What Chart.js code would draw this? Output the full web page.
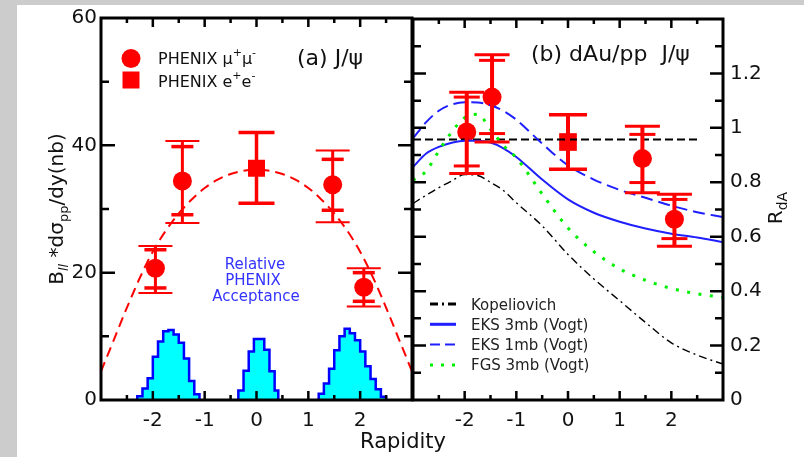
<!DOCTYPE html>
<html><head><meta charset="utf-8">
<script src="https://cdn.jsdelivr.net/npm/chart.js@4.4.1/dist/chart.umd.min.js"></script>
<style>
html,body{margin:0;padding:0;background:#cccccc;width:804px;height:457px;overflow:hidden;}
#paper{position:absolute;left:17px;top:5px;width:787px;height:452px;background:#fff;}
canvas{position:absolute;left:0;top:0;}
</style></head><body>
<div id="paper"></div>
<canvas id="c1" width="804" height="457"></canvas>
<canvas id="c2" width="804" height="457"></canvas>
<script>
// ---------- tick labels ----------
const xTickValues = [-2, -1, 0, 1, 2];
const xTickLabels = ['-2', '-1', '0', '1', '2'];
const xMinorTicks = [-2.5, -1.5, -0.5, 0.5, 1.5, 2.5];
const ppTickValues = [0, 20, 40, 60];
const ppTickLabels = ['0', '20', '40', '60'];
const ppMajorMarks = [20, 40];
const ppMinorMarks = [10, 30, 50];
const rdaTickValues = [0, 0.2, 0.4, 0.6, 0.8, 1.0, 1.2];
const rdaTickLabels = ['0', '0.2', '0.4', '0.6', '0.8', '1', '1.2'];
const rdaMajorMarks = [0.2, 0.4, 0.6, 0.8, 1.0, 1.2];
const rdaMinorMarks = [0.1, 0.3, 0.5, 0.7, 0.9, 1.1, 1.3];

// ---------- panel (a): pp cross section ----------
const muRapidity = [-1.95, -1.43, 1.47, 2.07];
const muCross = [20.7, 34.4, 33.8, 17.7];
const muCrossHiOuter = [24.2, 40.7, 39.2, 20.7];
const muCrossHiInner = [23.6, 39.8, 37.8, 20.0];
const muCrossLoInner = [17.6, 29.1, 29.8, 15.5];
const muCrossLoOuter = [16.8, 27.8, 27.9, 14.7];
const eeRapidity = [0];
const eeCross = [36.4];
const eeCrossHi = [42.0];
const eeCrossLo = [30.9];
const fitRapidity = [-3, -2.75, -2.5, -2.25, -2, -1.75, -1.5, -1.25, -1, -0.75, -0.5, -0.25, 0, 0.25, 0.5, 0.75, 1, 1.25, 1.5, 1.75, 2, 2.25, 2.5, 2.75, 3];
const fitCross = [4.5, 9.5, 14.5, 19.2, 23.3, 26.6, 29.3, 31.5, 33.3, 34.6, 35.5, 36.0, 36.2, 36.0, 35.5, 34.6, 33.3, 31.5, 29.3, 26.6, 23.3, 19.2, 14.5, 9.5, 4.5];
// relative acceptance histograms (bin edges, heights)
const accSouthEdges = [-2.3, -2.2, -2.1, -2.0, -1.9, -1.8, -1.7, -1.6, -1.5, -1.4, -1.3, -1.2, -1.1];
const accSouthHeights = [0.6, 1.8, 3.4, 6.8, 9.2, 10.8, 11.0, 10.3, 9.0, 6.5, 3.0, 0.9];
const accCentralEdges = [-0.35, -0.25, -0.15, -0.05, 0.05, 0.15, 0.25, 0.35, 0.42];
const accCentralHeights = [1.5, 4.6, 7.6, 9.6, 9.6, 7.9, 4.5, 1.5];
const accNorthEdges = [1.2, 1.3, 1.4, 1.5, 1.6, 1.7, 1.8, 1.9, 2.0, 2.1, 2.2, 2.3, 2.4, 2.5];
const accNorthHeights = [1.0, 2.6, 4.9, 7.8, 10.0, 11.2, 10.5, 9.4, 7.6, 5.3, 3.3, 1.7, 0.5];

// ---------- panel (b): dAu/pp ----------
const rdaMuRapidity = [-1.96, -1.47, 1.44, 2.06];
const rdaMu = [0.985, 1.113, 0.887, 0.664];
const rdaMuHiOuter = [1.131, 1.269, 1.006, 0.756];
const rdaMuHiInner = [1.113, 1.248, 0.976, 0.737];
const rdaMuLoInner = [0.860, 0.979, 0.799, 0.593];
const rdaMuLoOuter = [0.832, 0.948, 0.762, 0.565];
const rdaEeRapidity = [0];
const rdaEe = [0.948];
const rdaEeHi = [1.048];
const rdaEeLo = [0.848];
const refRapidity = [-3, 2.5];
const refRda = [0.957, 0.957];
const theoryRapidity = [-3, -2.75, -2.5, -2.25, -2, -1.75, -1.5, -1.25, -1, -0.5, 0, 0.5, 1, 1.5, 2, 2.5, 3];
const kopeliovich = [0.722, 0.752, 0.780, 0.805, 0.828, 0.825, 0.800, 0.770, 0.725, 0.640, 0.535, 0.445, 0.365, 0.285, 0.210, 0.165, 0.132];
const eks3mb = [0.856, 0.905, 0.930, 0.945, 0.953, 0.953, 0.946, 0.925, 0.893, 0.810, 0.737, 0.688, 0.655, 0.630, 0.611, 0.597, 0.580];
const eks1mb = [0.962, 1.020, 1.063, 1.086, 1.094, 1.093, 1.083, 1.062, 1.030, 0.942, 0.862, 0.810, 0.772, 0.743, 0.714, 0.690, 0.672];
const fgs3mb = [0.807, 0.840, 0.915, 0.985, 1.037, 1.050, 0.995, 0.935, 0.890, 0.757, 0.632, 0.545, 0.482, 0.440, 0.410, 0.390, 0.377];

// ---------- styling ----------
const FONT = 'DejaVu Sans';
const RED = '#ff0000';
const BLUE = '#1f1fff';
const TXT = '#111111';

const pts = (xs, ys) => xs.map((v, i) => ({x: v, y: ys[i]}));
const histPts = (edges, h) => [{x: edges[0], y: 0}].concat(h.map((v, i) => ({x: edges[i], y: v}))).concat([{x: edges[edges.length - 1], y: 0}]);

function richText(ctx, x, y, parts, align) {
  ctx.textBaseline = 'alphabetic';
  ctx.textAlign = 'left';
  let total = 0;
  parts.forEach(p => { ctx.font = (p.italic ? 'italic ' : '') + p.size + 'px "' + FONT + '"'; p.w = ctx.measureText(p.t).width; total += p.w; });
  let cx = align === 'center' ? x - total / 2 : x;
  parts.forEach(p => {
    ctx.font = (p.italic ? 'italic ' : '') + p.size + 'px "' + FONT + '"';
    ctx.fillText(p.t, cx, y + (p.dy || 0));
    cx += p.w;
  });
}
function rotatedText(ctx, x, y, parts) {
  ctx.save();
  ctx.translate(x, y);
  ctx.rotate(-Math.PI / 2);
  richText(ctx, 0, 0, parts, 'center');
  ctx.restore();
}
function drawFrame(chart, yMajor, yMinor, yMajLen, yMinLen) {
  const {ctx, chartArea: a, scales: {x, y}} = chart;
  ctx.save();
  ctx.strokeStyle = '#000';
  ctx.lineWidth = 2.5;
  ctx.beginPath();
  const xt = (vals, len) => vals.forEach(v => { const p = x.getPixelForValue(v); ctx.moveTo(p, a.bottom); ctx.lineTo(p, a.bottom - len); ctx.moveTo(p, a.top); ctx.lineTo(p, a.top + len); });
  const yt = (vals, len) => vals.forEach(v => { const p = y.getPixelForValue(v); ctx.moveTo(a.left, p); ctx.lineTo(a.left + len, p); ctx.moveTo(a.right, p); ctx.lineTo(a.right - len, p); });
  xt(xTickValues, 9); xt(xMinorTicks, 5);
  yt(yMajor, yMajLen); yt(yMinor, yMinLen);
  ctx.stroke();
  ctx.lineWidth = 3;
  ctx.strokeRect(a.left, a.top, a.right - a.left, a.bottom - a.top);
  ctx.restore();
}
function vbar(ctx, px, y1, y2, w) { ctx.lineWidth = w; ctx.beginPath(); ctx.moveTo(px, y1); ctx.lineTo(px, y2); ctx.stroke(); }
function cap(ctx, px, py, half, w) { ctx.lineWidth = w; ctx.beginPath(); ctx.moveTo(px - half, py); ctx.lineTo(px + half, py); ctx.stroke(); }

function errorBars(chart, xs, hiO, hiI, loI, loO, vw, ow, iw, oHalf, iHalf) {
  const {ctx, scales: {x, y}} = chart;
  ctx.save(); ctx.strokeStyle = RED;
  xs.forEach((r, i) => {
    const px = x.getPixelForValue(r);
    vbar(ctx, px, y.getPixelForValue(hiO[i]), y.getPixelForValue(loO[i]), vw);
    cap(ctx, px, y.getPixelForValue(hiO[i]), oHalf, ow);
    cap(ctx, px, y.getPixelForValue(loO[i]), oHalf, ow);
    if (hiI) {
      cap(ctx, px, y.getPixelForValue(hiI[i]), iHalf, iw);
      cap(ctx, px, y.getPixelForValue(loI[i]), iHalf, iw);
    }
  });
  ctx.restore();
}

function xScale() {
  return {
    type: 'linear', min: -3, max: 3,
    grid: {display: false, drawTicks: false}, border: {display: false},
    afterBuildTicks: s => { s.ticks = xTickValues.map(v => ({value: v})); },
    afterFit: s => { s.height = 57; },
    ticks: {autoSkip: false, maxRotation: 0, padding: 9, color: TXT, font: {family: FONT, size: 20},
      callback: v => xTickLabels[xTickValues.indexOf(v)]}
  };
}

// ---------- panel (a) ----------
const panelA = {
  id: 'panelA',
  afterDatasetsDraw(chart) {
    const {ctx, chartArea: a} = chart;
    errorBars(chart, muRapidity, muCrossHiOuter, muCrossHiInner, muCrossLoInner, muCrossLoOuter, 3, 2, 3.5, 17, 11);
    errorBars(chart, eeRapidity, eeCrossHi, null, null, eeCrossLo, 3.5, 3.5, 3.5, 18, 0);
    drawFrame(chart, ppMajorMarks, ppMinorMarks, 14, 8);
    ctx.save();
    // legend
    ctx.fillStyle = RED;
    ctx.beginPath(); ctx.arc(a.left + 30, a.top + 40.5, 9.5, 0, Math.PI * 2); ctx.fill();
    ctx.fillRect(a.left + 21.5, a.top + 53.5, 17, 17);
    ctx.fillStyle = TXT;
    richText(ctx, a.left + 57, a.top + 46, [{t: 'PHENIX \u03bc', size: 16}, {t: '+', size: 11, dy: -8}, {t: '\u03bc', size: 16}, {t: '-', size: 11, dy: -8}]);
    richText(ctx, a.left + 57, a.top + 69, [{t: 'PHENIX e', size: 16}, {t: '+', size: 11, dy: -8}, {t: 'e', size: 16}, {t: '-', size: 11, dy: -8}]);
    richText(ctx, a.left + 196, a.top + 47, [{t: '(a) J/\u03c8', size: 22}]);
    ctx.fillStyle = '#3333ff';
    richText(ctx, a.left + 154, a.top + 251, [{t: 'Relative', size: 15}], 'center');
    richText(ctx, a.left + 152, a.top + 267, [{t: 'PHENIX', size: 15}], 'center');
    richText(ctx, a.left + 155, a.top + 283, [{t: 'Acceptance', size: 15}], 'center');
    // axis titles
    ctx.fillStyle = TXT;
    rotatedText(ctx, 63, (a.top + a.bottom) / 2, [
      {t: 'B', size: 20}, {t: 'll', size: 13, dy: 5, italic: true}, {t: ' *d\u03c3', size: 20},
      {t: 'pp', size: 13, dy: 5}, {t: '/dy(nb)', size: 20}]);
    richText(ctx, 403, 448, [{t: 'Rapidity', size: 21}], 'center');
    ctx.restore();
  }
};

new Chart(document.getElementById('c1'), {
  type: 'line',
  data: {datasets: [
    {data: histPts(accSouthEdges, accSouthHeights), stepped: 'before', fill: 'origin', backgroundColor: '#00ffff', borderColor: '#0000ff', borderWidth: 2.5, pointRadius: 0},
    {data: histPts(accCentralEdges, accCentralHeights), stepped: 'before', fill: 'origin', backgroundColor: '#00ffff', borderColor: '#0000ff', borderWidth: 2.5, pointRadius: 0},
    {data: histPts(accNorthEdges, accNorthHeights), stepped: 'before', fill: 'origin', backgroundColor: '#00ffff', borderColor: '#0000ff', borderWidth: 2.5, pointRadius: 0},
    {data: pts(fitRapidity, fitCross), borderColor: RED, borderWidth: 2, borderDash: [10, 6], pointRadius: 0, cubicInterpolationMode: 'monotone', fill: false},
    {data: pts(muRapidity, muCross), showLine: false, pointStyle: 'circle', pointRadius: 9.5, pointBackgroundColor: RED, pointBorderWidth: 0},
    {data: pts(eeRapidity, eeCross), showLine: false, pointStyle: 'rect', pointRadius: 12, pointBackgroundColor: RED, pointBorderWidth: 0}
  ]},
  options: {
    responsive: false, animation: false, devicePixelRatio: 1,
    layout: {padding: {top: 18, left: 0, right: 392, bottom: 0}},
    plugins: {legend: {display: false}, tooltip: {enabled: false}},
    scales: {
      x: xScale(),
      y: {type: 'linear', min: 0, max: 60,
        grid: {display: false, drawTicks: false}, border: {display: false},
        afterBuildTicks: s => { s.ticks = ppTickValues.map(v => ({value: v})); },
        afterFit: s => { s.width = 101; },
        ticks: {autoSkip: false, padding: 4, color: TXT, font: {family: FONT, size: 20},
          callback: v => ppTickLabels[ppTickValues.indexOf(v)]}}
    }
  },
  plugins: [panelA]
});

// ---------- panel (b) ----------
const panelB = {
  id: 'panelB',
  afterDatasetsDraw(chart) {
    const {ctx, chartArea: a} = chart;
    errorBars(chart, rdaMuRapidity, rdaMuHiOuter, rdaMuHiInner, rdaMuLoInner, rdaMuLoOuter, 4, 3, 3, 17.5, 13);
    errorBars(chart, rdaEeRapidity, rdaEeHi, null, null, rdaEeLo, 4, 3.5, 3.5, 19, 0);
    drawFrame(chart, rdaMajorMarks, rdaMinorMarks, 13, 8);
    ctx.save();
    ctx.fillStyle = TXT;
    richText(ctx, a.left + 118, a.top + 42, [{t: '(b) dAu/pp  J/\u03c8', size: 22}]);
    // legend
    const rows = [
      {label: 'Kopeliovich', color: '#000', dash: [8, 4, 2, 4], w: 3},
      {label: 'EKS 3mb (Vogt)', color: BLUE, dash: [], w: 3},
      {label: 'EKS 1mb (Vogt)', color: BLUE, dash: [10, 5], w: 2},
      {label: 'FGS 3mb (Vogt)', color: '#00ee00', dash: [3, 8], w: 3}
    ];
    rows.forEach((r, i) => {
      const yy = a.top + 285 + i * 20.3;
      ctx.strokeStyle = r.color; ctx.lineWidth = r.w; ctx.setLineDash(r.dash);
      ctx.beginPath(); ctx.moveTo(a.left + 17, yy); ctx.lineTo(a.left + 43, yy); ctx.stroke();
      ctx.setLineDash([]);
      ctx.fillStyle = '#222';
      richText(ctx, a.left + 58, yy + 5.5, [{t: r.label, size: 15}]);
    });
    ctx.fillStyle = TXT;
    rotatedText(ctx, 782, 208, [{t: 'R', size: 20}, {t: 'dA', size: 14, dy: 5}]);
    ctx.restore();
  }
};

new Chart(document.getElementById('c2'), {
  type: 'line',
  data: {datasets: [
    {data: pts(theoryRapidity, kopeliovich), borderColor: '#000', borderWidth: 1.4, borderDash: [8, 4, 2, 4], pointRadius: 0, cubicInterpolationMode: 'monotone', fill: false},
    {data: pts(theoryRapidity, fgs3mb), borderColor: '#00ee00', borderWidth: 3, borderDash: [3, 8.5], pointRadius: 0, cubicInterpolationMode: 'monotone', fill: false},
    {data: pts(theoryRapidity, eks3mb), borderColor: BLUE, borderWidth: 2, pointRadius: 0, cubicInterpolationMode: 'monotone', fill: false},
    {data: pts(theoryRapidity, eks1mb), borderColor: BLUE, borderWidth: 2, borderDash: [12, 6], pointRadius: 0, cubicInterpolationMode: 'monotone', fill: false},
    {data: pts(refRapidity, refRda), borderColor: '#000', borderWidth: 2, borderDash: [8, 4], pointRadius: 0, fill: false},
    {data: pts(rdaMuRapidity, rdaMu), showLine: false, pointStyle: 'circle', pointRadius: 9.5, pointBackgroundColor: RED, pointBorderWidth: 0},
    {data: pts(rdaEeRapidity, rdaEe), showLine: false, pointStyle: 'rect', pointRadius: 12.5, pointBackgroundColor: RED, pointBorderWidth: 0}
  ]},
  options: {
    responsive: false, animation: false, devicePixelRatio: 1,
    layout: {padding: {top: 18, left: 413, right: 0, bottom: 0}},
    plugins: {legend: {display: false}, tooltip: {enabled: false}},
    scales: {
      x: xScale(),
      y: {type: 'linear', position: 'right', min: 0, max: 1.4,
        grid: {display: false, drawTicks: false}, border: {display: false},
        afterBuildTicks: s => { s.ticks = rdaTickValues.map(v => ({value: v})); },
        afterFit: s => { s.width = 81; },
        ticks: {autoSkip: false, padding: 7, color: TXT, font: {family: FONT, size: 20},
          callback: v => rdaTickLabels[rdaTickValues.indexOf(v)]}}
    }
  },
  plugins: [panelB]
});
</script>
</body></html>
